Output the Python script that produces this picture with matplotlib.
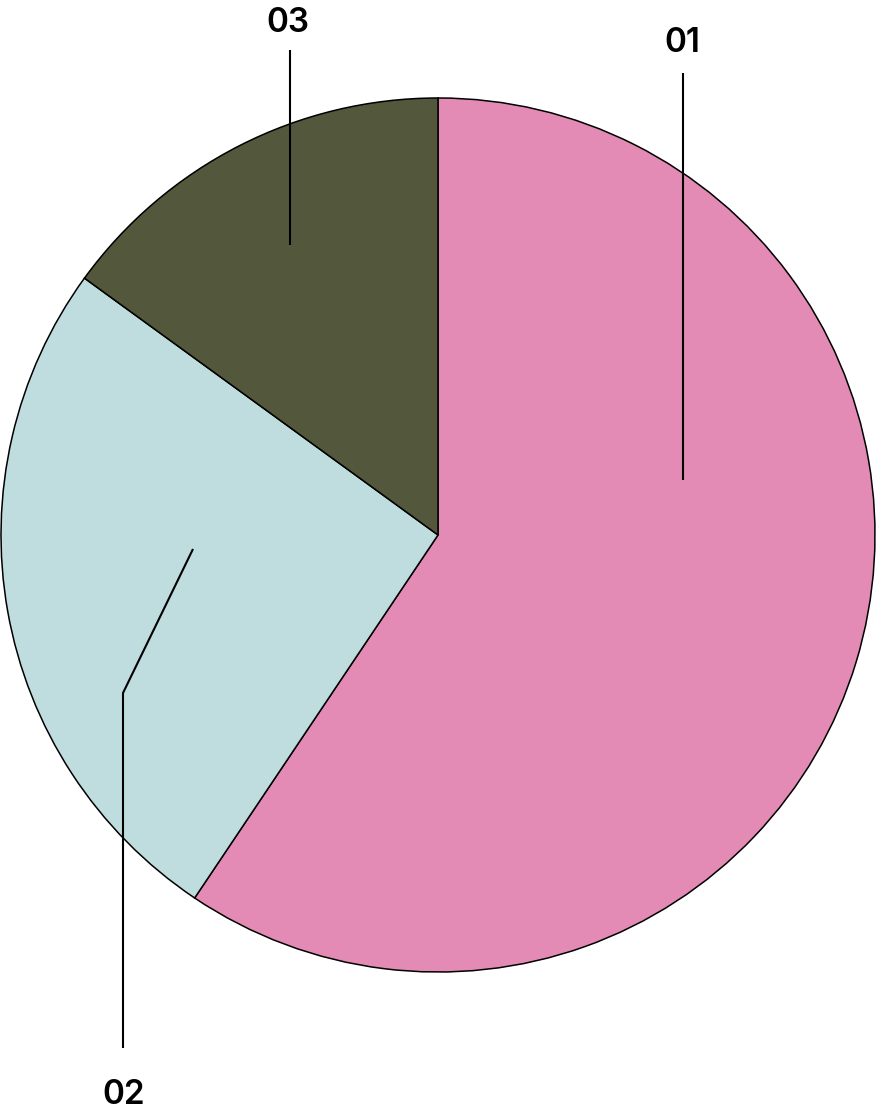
import matplotlib.pyplot as plt

labels = ['01', '02', '03']
values = [59.4, 25.6, 15.0]
colors = ['#E38BB4', '#BFDDDF', '#53573B']

W, H = 877, 1117
fig = plt.figure(figsize=(W / 100, H / 100), dpi=100)
ax = fig.add_axes([0, 0, 1, 1])

cx, cy, r = 438, H - 535, 437
ax.pie(values, colors=colors, startangle=90, counterclock=False,
       center=(cx, cy), radius=r, frame=True,
       wedgeprops={'edgecolor': 'black', 'linewidth': 1.1})
ax.set_xlim(0, W)
ax.set_ylim(0, H)
ax.set_aspect('equal')
ax.axis('off')

# leader lines (pixel coords from top) and label baselines
leaders = {
    '01': ([683, 683], [480, 73], (682, 52)),
    '03': ([290, 290], [245, 50], (288, 32)),
    '02': ([193, 123, 123], [549, 693, 1048], (124, 1104)),
}
for lab in labels:
    xs, ys, (tx, ty) = leaders[lab]
    ax.plot(xs, [H - y for y in ys], color='black', linewidth=1.5,
            solid_capstyle='butt')
    ax.text(tx, H - ty, lab, ha='center', va='baseline', fontsize=24,
            family='Inter', fontweight='semibold', color='black')

fig.savefig('out.png', dpi=100)
